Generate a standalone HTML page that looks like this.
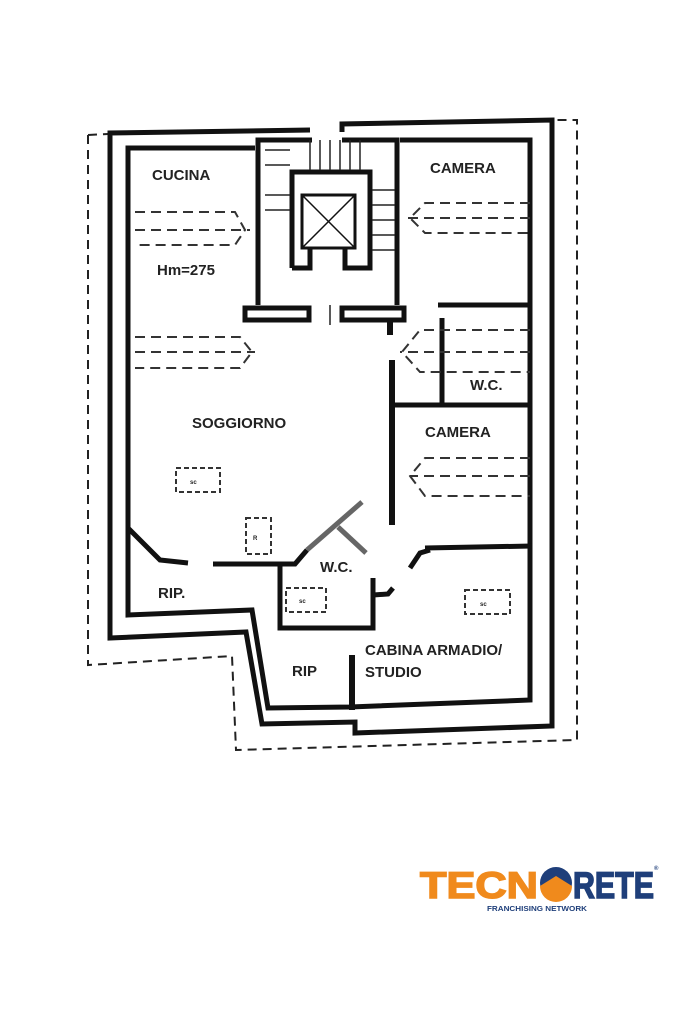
<!DOCTYPE html>
<html><head><meta charset="utf-8"><style>
html,body{margin:0;padding:0;background:#fff;}
svg{display:block;}
text{font-family:"Liberation Sans",sans-serif;font-weight:bold;fill:#222;}
</style></head><body>
<svg width="683" height="1023" viewBox="0 0 683 1023" xmlns="http://www.w3.org/2000/svg">
<g fill="none" stroke="#222" stroke-width="2" stroke-dasharray="9,6">
<polyline points="88,135 88,665 232,656 236,750 577,740 577,120 555,120"/>
<line x1="88" y1="135" x2="108" y2="134"/>
</g>
<g fill="none" stroke="#111" stroke-width="5" stroke-linejoin="miter">
<polyline points="310,130 110,133 110,638 246,632 262,724 355,722 355,733 552,726 552,120 342,124 342,132"/>
<polyline points="255,148 128,148 128,615 252,610 268,708 350,707 530,700 530,140 400,140"/>
<polyline points="258,305 258,140 312,140"/>
<polyline points="397,305 397,140 342,140"/>
<polyline points="292,268 292,172 370,172 370,268 345,268 345,248"/>
<polyline points="292,268 310,268 310,248"/>
<rect x="245" y="308" width="64" height="12"/>
<rect x="342" y="308" width="62" height="12"/>
<line x1="438" y1="305" x2="532" y2="305"/>
<line x1="442" y1="318" x2="442" y2="405"/>
<line x1="392" y1="405" x2="532" y2="405"/>
<line x1="392" y1="360" x2="392" y2="525" stroke-width="6"/>
<line x1="390" y1="318" x2="390" y2="335" stroke-width="6"/>
<polyline points="425,548 532,546"/>
<polyline points="410,568 420,553 430,550"/>
<polyline points="128,528 160,560 188,563"/>
<line x1="213" y1="564" x2="275" y2="564"/>
<polyline points="275,564 295,564 307,550"/>
<polyline points="280,566 280,628 373,628 373,578"/>
<polyline points="373,595 388,594 393,588"/>
<line x1="352" y1="655" x2="352" y2="710" stroke-width="6"/>
</g>
<g stroke="#666" stroke-width="5" fill="none">
<line x1="307" y1="550" x2="362" y2="502"/>
<line x1="338" y1="527" x2="366" y2="553"/>
</g>
<g stroke="#222" stroke-width="1.5">
<line x1="265" y1="150" x2="290" y2="150"/><line x1="265" y1="165" x2="290" y2="165"/>
<line x1="265" y1="195" x2="290" y2="195"/><line x1="265" y1="210" x2="290" y2="210"/>
<line x1="372" y1="190" x2="395" y2="190"/><line x1="372" y1="205" x2="395" y2="205"/>
<line x1="372" y1="220" x2="395" y2="220"/><line x1="372" y1="235" x2="395" y2="235"/>
<line x1="372" y1="250" x2="395" y2="250"/>
<line x1="310" y1="140" x2="310" y2="170"/><line x1="320" y1="140" x2="320" y2="170"/>
<line x1="330" y1="140" x2="330" y2="170"/><line x1="340" y1="140" x2="340" y2="170"/>
<line x1="350" y1="140" x2="350" y2="170"/><line x1="360" y1="140" x2="360" y2="170"/>
<line x1="330" y1="305" x2="330" y2="325"/>
</g>
<g stroke="#111" stroke-width="3" fill="none">
<rect x="302" y="195" width="53" height="53"/>
</g>
<g stroke="#111" stroke-width="1.5"><line x1="302" y1="195" x2="355" y2="248"/><line x1="355" y1="195" x2="302" y2="248"/></g>
<g stroke="#333" stroke-width="2" fill="none" stroke-dasharray="10,6">
<path d="M135,212 H235 L245,230 L235,245 H135 M135,230 H250"/>
<path d="M135,337 H240 L252,352 L240,368 H135 M135,352 H255"/>
<path d="M530,203 H425 L410,218 L425,233 H530 M530,218 H405"/>
<path d="M530,330 H420 L402,352 L420,372 H530 M530,352 H400"/>
<path d="M530,458 H425 L410,476 L425,496 H530 M530,476 H410"/>
</g>
<g stroke="#333" stroke-width="2" fill="none" stroke-dasharray="5,3">
<rect x="176" y="468" width="44" height="24"/>
<rect x="246" y="518" width="25" height="36"/>
<rect x="286" y="588" width="40" height="24"/>
<rect x="465" y="590" width="45" height="24"/>
</g>
<g font-size="6">
<text x="190" y="484">sc</text><text x="253" y="540">R</text>
<text x="299" y="603">sc</text><text x="480" y="606">sc</text>
</g>
<g font-size="15">
<text x="152" y="180">CUCINA</text>
<text x="157" y="275" font-weight="normal">Hm=275</text>
<text x="430" y="173">CAMERA</text>
<text x="192" y="428">SOGGIORNO</text>
<text x="470" y="390" font-weight="normal">W.C.</text>
<text x="425" y="437">CAMERA</text>
<text x="158" y="598" font-weight="normal">RIP.</text>
<text x="320" y="572" font-weight="normal">W.C.</text>
<text x="292" y="676" font-weight="normal">RIP</text>
<text x="365" y="655">CABINA ARMADIO/</text>
<text x="365" y="677">STUDIO</text>
</g>
<g font-family="Liberation Sans,sans-serif" font-weight="bold">
<text x="420" y="898" font-size="37" textLength="118" lengthAdjust="spacingAndGlyphs" style="fill:#f08a1c;stroke:#f08a1c;stroke-width:1.5">TECN</text>
<circle cx="556" cy="883" r="16" fill="#1f3f7a"/>
<path d="M540,886 L556,876 L572,886 A16,16 0 0 1 540,886 Z" fill="#f08a1c"/>
<text x="573" y="898" font-size="37" textLength="81" lengthAdjust="spacingAndGlyphs" style="fill:#1f3f7a;stroke:#1f3f7a;stroke-width:1.5">RETE</text>
<text x="654" y="870" font-size="6" style="fill:#1f3f7a">®</text>
<text x="487" y="911" font-size="7.5" textLength="100" lengthAdjust="spacingAndGlyphs" style="fill:#1f3f7a">FRANCHISING NETWORK</text>
</g>
</svg>
</body></html>
